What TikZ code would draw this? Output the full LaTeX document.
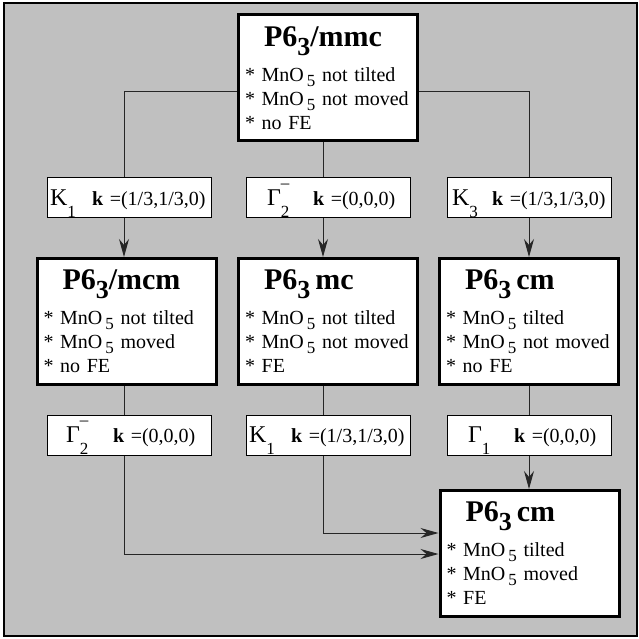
\documentclass[tikz,border=0pt]{standalone}
\usepackage{fontspec}
\setmainfont{Liberation Serif}
\usepackage{graphicx}
\usetikzlibrary{arrows.meta}

\newcommand{\lowsub}[2]{\raisebox{-#1}[0pt][0pt]{#2}}
\newcommand{\mno}{MnO\hspace{3pt}\lowsub{5pt}{\fontsize{17}{17}\selectfont 5}}
\newcommand{\spg}[1]{{\hspace*{19pt}\fontsize{30}{30}\selectfont\bfseries P6\lowsub{9pt}{\fontsize{26}{26}\selectfont 3}#1}}
\newcommand{\irrep}[3]{{\fontsize{24}{24}\selectfont #1}\rlap{\raisebox{17pt}[0pt][0pt]{\fontsize{17}{17}\selectfont #3}}\lowsub{12pt}{\fontsize{17}{17}\selectfont #2}}
\newcommand{\klab}[3][44pt]{\makebox[#1][l]{#2}\textbf{k} =(#3)}

\definecolor{panelgray}{RGB}{192,192,192}

\tikzset{every picture/.style={line width=1pt}}
\tikzset{
  phase/.style={draw=black, fill=white, line width=3pt, minimum width=179pt, minimum height=126pt,
    inner xsep=6.5pt, text width=166pt, align=left, font=\fontsize{20}{24}\selectfont},
  irlabel/.style={draw=black, fill=white, line width=1pt, minimum width=164pt, minimum height=40pt,
    inner xsep=0pt, text width=163pt, align=left, text height=15pt, text depth=0pt,
    font=\fontsize{20}{24}\selectfont},
  link/.style={draw=black!85, line width=1pt},
  arr/.style={-{Stealth[length=18pt,width=10pt,inset=6pt]}}
}

\begin{document}
\begin{tikzpicture}[x=1pt,y=1pt,yscale=-1]
\useasboundingbox (0,0) rectangle (639,639);
\draw [fill=panelgray, line width=1.5pt] (4,3) rectangle (637,636);

% line columns and rows
\coordinate (colL) at (124,0);
\coordinate (colM) at (323,0);
\coordinate (colR) at (529,0);
\coordinate (tapY) at (0,92);
\coordinate (inA) at (0,533);
\coordinate (inB) at (0,554);

% phases
\node [phase] (top) at (328,78) {\spg{/mmc}\\[11pt]{*} \mno{} not tilted\\{*} \mno{} not moved\\{*} no FE};
\node [phase] (mcm) at (126.5,321.5) {\spg{/mcm}\\[11pt]{*} \mno{} not tilted\\{*} \mno{} moved\\{*} no FE};
\node [phase] (mc) at (328,321.5) {\spg{\,mc}\\[11pt]{*} \mno{} not tilted\\{*} \mno{} not moved\\{*} FE};
\node [phase] (cm) at (529,321.5) {\spg{\,cm}\\[11pt]{*} \mno{} tilted\\{*} \mno{} not moved\\{*} no FE};
\node [phase] (fe) at (529.5,553.5) {\spg{\,cm}\\[11pt]{*} \mno{} tilted\\{*} \mno{} moved\\{*} FE};

% irreps
\node [irlabel] (k1a) at (129.5,197.5) {\klab{\hspace*{2pt}\irrep{K}{1}{}}{1/3,1/3,0}};
\node [irlabel] (g2a) at (328.5,197.5) {\klab[66pt]{\hspace*{20pt}\irrep{Γ}{2}{–}}{0,0,0}};
\node [irlabel] (k3a) at (529.5,197.5) {\klab{\hspace*{4pt}\irrep{K}{3}{}}{1/3,1/3,0}};
\node [irlabel] (g2b) at (129.5,435) {\klab[65pt]{\hspace*{18pt}\irrep{Γ}{2}{–}}{0,0,0}};
\node [irlabel] (k1b) at (328.5,435) {\klab{\hspace*{2pt}\irrep{K}{1}{}}{1/3,1/3,0}};
\node [irlabel] (g1b) at (529.5,435) {\klab[66pt]{\hspace*{20pt}\irrep{Γ}{1}{}}{0,0,0}};

% connectors
\draw [link] (top.west |- tapY) -| (k1a.north -| colL);
\draw [link,arr] (k1a.south -| colL) -- (mcm.north -| colL);
\draw [link] (top.south -| colM) -- (g2a.north -| colM);
\draw [link,arr] (g2a.south -| colM) -- (mc.north -| colM);
\draw [link] (top.east |- tapY) -| (k3a.north -| colR);
\draw [link,arr] (k3a.south -| colR) -- (cm.north -| colR);
\draw [link] (mcm.south -| colL) -- (g2b.north -| colL);
\draw [link] (mc.south -| colM) -- (k1b.north -| colM);
\draw [link] (cm.south -| colR) -- (g1b.north -| colR);
\draw [link,arr] (g1b.south -| colR) -- (fe.north -| colR);
\draw [link,arr] (k1b.south -| colM) |- (fe.west |- inA);
\draw [link,arr] (g2b.south -| colL) |- (fe.west |- inB);

\end{tikzpicture}
\end{document}
